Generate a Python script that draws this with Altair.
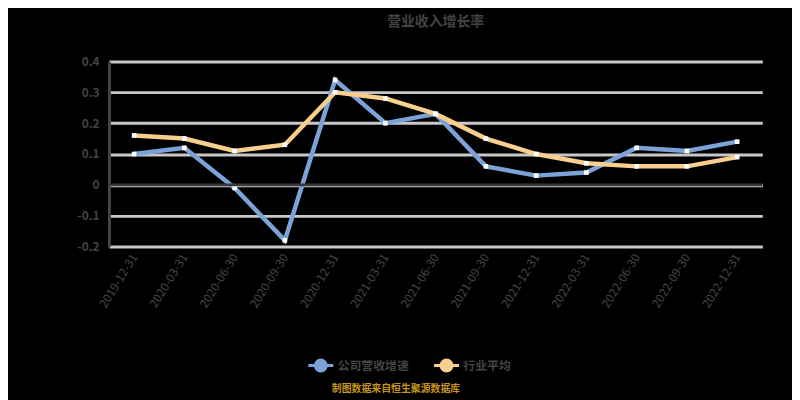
import altair as alt
import pandas as pd

dates = ["2019-12-31", "2020-03-31", "2020-06-30", "2020-09-30", "2020-12-31",
         "2021-03-31", "2021-06-30", "2021-09-30", "2021-12-31", "2022-03-31",
         "2022-06-30", "2022-09-30", "2022-12-31"]
series_names = ["公司营收增速", "行业平均"]
company = [0.10, 0.12, -0.01, -0.18, 0.34, 0.20, 0.23, 0.06, 0.03, 0.04, 0.12, 0.11, 0.14]
industry = [0.16, 0.15, 0.11, 0.13, 0.30, 0.28, 0.23, 0.15, 0.10, 0.07, 0.06, 0.06, 0.09]
y_ticks = [-0.2, -0.1, 0, 0.1, 0.2, 0.3, 0.4]
colors = ["#7ba3d8", "#f8cf8c"]
title_text = "营业收入增长率"
source_text = "制图数据来自恒生聚源数据库"

rows = []
for name, vals in zip(series_names, [company, industry]):
    for d, v in zip(dates, vals):
        rows.append({"date": d, "series": name, "value": v})
df = pd.DataFrame(rows)

FONT = "Noto Sans CJK SC"

x_enc = alt.X("date:N", sort=dates, title=None,
              scale=alt.Scale(paddingInner=0, paddingOuter=0),
              axis=alt.Axis(labelAngle=-58, labelAlign="right", labelBaseline="middle",
                            labelColor="#444", labelFont=FONT, labelFontSize=12,
                            labelPadding=8, labelOverlap=False, domain=False, ticks=False))
y_enc = alt.Y("value:Q", title=None,
              scale=alt.Scale(domain=[-0.2, 0.4], nice=False, zero=False),
              axis=alt.Axis(values=y_ticks, tickCount=20,
                            labelExpr="datum.value == 0 ? '0' : toString(round(datum.value*10)/10)",
                            labelColor="#444", labelFont=FONT, labelFontSize=12,
                            labelFontWeight="bold", labelPadding=10, labelOverlap=False,
                            labelFlush=False,
                            domain=True, domainColor="#444", domainWidth=3,
                            ticks=False, grid=True, gridColor="#c8c8c8", gridWidth=3))

legend_symbol = ("M-1.7,0L-0.75,0M0.75,0L1.7,0"
                 "M0.75,0A0.75,0.75 0 1 1 -0.75,0A0.75,0.75 0 1 1 0.75,0Z")

lines = alt.Chart(df).mark_line(
    strokeWidth=4.5,
    point=alt.OverlayMarkDef(filled=True, fill="white", size=22, strokeWidth=2, shape="square"),
).encode(
    x=x_enc,
    y=y_enc,
    color=alt.Color("series:N", sort=series_names,
                    scale=alt.Scale(domain=series_names, range=colors),
                    legend=alt.Legend(title=None, orient="none", direction="horizontal",
                                      legendX=205, legendY=298,
                                      symbolType=legend_symbol, symbolSize=220,
                                      symbolFillColor="white", symbolStrokeWidth=3,
                                      labelColor="#444", labelFont=FONT, labelFontSize=12,
                                      labelFontWeight="bold", labelOffset=8,
                                      columnPadding=18)),
)

zero_rule = alt.Chart(pd.DataFrame({"value": [0]})).mark_rule(color="#3a3a3a", strokeWidth=3).encode(
    y=alt.Y("value:Q"),
)

source = alt.Chart(pd.DataFrame({"t": [source_text]})).mark_text(
    color="#c8961e", font=FONT, fontSize=10, fontWeight="bold"
).encode(text="t:N", x=alt.value(290), y=alt.value(331))

chart = alt.layer(lines, zero_rule, source).properties(
    width=660, height=187,
    padding={"left": 102, "top": 52, "right": 30, "bottom": 153},
    autosize=alt.AutoSizeParams(type="none"),
    title=alt.TitleParams(title_text, color="#444", font=FONT, fontSize=14,
                          fontWeight="bold", offset=27, anchor="middle"),
    background="black",
).configure_view(stroke=None)

chart.save("out.html", embed_options={"renderer": "svg", "actions": False})
